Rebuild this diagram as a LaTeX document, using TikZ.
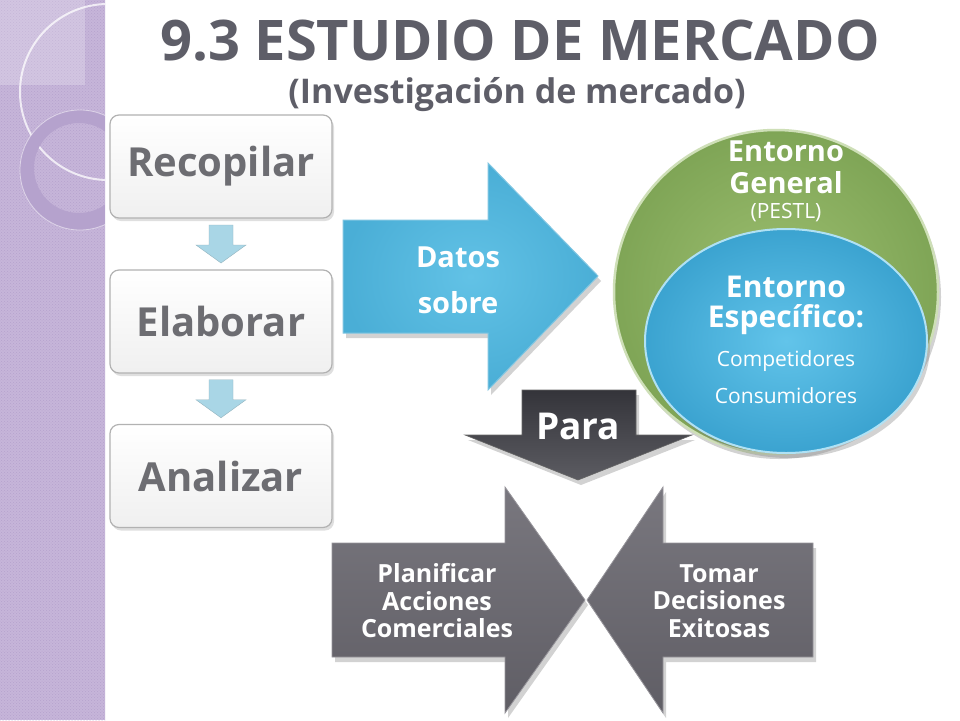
\documentclass[tikz,border=0pt]{standalone}
\usepackage{fontspec}
\setmainfont{Open Sans}
\usetikzlibrary{shadows,patterns,calc}
\definecolor{strip}{HTML}{C6B5D9}
\definecolor{stripdark}{HTML}{B5A2CD}
\definecolor{titlegray}{HTML}{5E5E68}
\definecolor{boxtext}{HTML}{6D6D72}
\definecolor{lblue}{HTML}{A9D6E6}
\definecolor{arrowblue}{HTML}{4AAED6}
\definecolor{arrowbluein}{HTML}{62C2E6}
\definecolor{greenout}{HTML}{7FA556}
\definecolor{greenin}{HTML}{9DBF70}
\definecolor{bluecin}{HTML}{62C4EA}
\definecolor{bluecout}{HTML}{3BA3D0}
\definecolor{paratop}{HTML}{34343A}
\definecolor{parabot}{HTML}{5C5C62}
\definecolor{grayarrow}{HTML}{6A6870}
\tikzset{
  stepbox/.style={draw=black!30, line width=1.2pt, rounded corners=9pt,
    top color=white, bottom color=black!6, minimum width=222pt, minimum height=103pt,
    font=\fontsize{40}{44}\selectfont\bfseries, text=boxtext,
    drop shadow={opacity=0.25, shadow xshift=2pt, shadow yshift=-3pt}},
  whitetxt/.style={text=white, font=\bfseries, align=center, inner sep=0pt},
  smallarrow/.style={fill=lblue, draw=lblue!80!black!90, line width=0.4pt},
  shad/.style={drop shadow={opacity=0.35, shadow xshift=3pt, shadow yshift=-5pt}}
}
\begin{document}
\begin{tikzpicture}[x=1pt,y=-1pt]
\useasboundingbox (0,0) rectangle (960,720);
\fill[white] (0,0) rectangle (960,720);
% left strip
\fill[strip] (0,0) rectangle (105,720);
\fill[pattern=crosshatch dots, pattern color=stripdark] (0,0) rectangle (105,720);
\fill[white, opacity=0.22] (0,0) rectangle (85,85);
\begin{scope}
  \clip (0,0) rectangle (105,720);
  \draw[white, opacity=0.75, line width=2pt] (108,92) circle (88pt);
  \fill[stripdark, even odd rule] (80,170) circle (60pt) (79,168) circle (45pt);
  \draw[white, opacity=0.5, line width=0.8pt] (80,170) circle (60pt);
\end{scope}
\draw[white!85!strip, line width=1.5pt] (105.5,0) -- (105.5,720);
% title
\node[text=titlegray, font=\fontsize{56}{60}\selectfont\bfseries] (title) at (520,41) {9.3 ESTUDIO DE MERCADO};
\node[text=titlegray, font=\fontsize{34}{38}\selectfont\bfseries] (subtitle) at (517,95) {(Investigación de mercado)};
% boxes
\node[stepbox] (rec) at (221,166.5) {Recopilar};
\node[stepbox] (ela) at (221,321.5) {Elaborar};
\node[stepbox] (ana) at (221,476) {Analizar};
% small arrows
\foreach \a/\b [count=\i] in {rec/ela, ela/ana}{
  \coordinate (m\i) at ($(\a.south)!0.5!(\b.north)$);
  \path[smallarrow] ($(m\i)+(-12,-19)$) -- ++(24,0) -- ++(0,20) -- ++(13,0)
     -- ($(m\i)+(0,19)$) -- ($(m\i)+(-25,1)$) -- ++(13,0) -- cycle;
}
% blue arrow
\path[shad, inner color=arrowbluein, outer color=arrowblue, draw=arrowblue!70!white, line width=1pt]
  (343,220) -- (488,220) -- (488,163) -- (598,276) -- (488,390) -- (488,333) -- (343,333) -- cycle;
\node[whitetxt, font=\fontsize{29}{32}\selectfont\bfseries] (datos) at (458,257) {Datos};
\node[whitetxt, font=\fontsize{29}{32}\selectfont\bfseries] (sobre) at (458,303) {sobre};
% Para arrow
\path[shad, top color=paratop, bottom color=parabot, draw=black!60, line width=0.6pt]
  (522,390) -- (636,390) -- (636,435) -- (692,435) -- (578,480) -- (465,435) -- (522,435) -- cycle;
\node[whitetxt, font=\fontsize{37}{40}\selectfont\bfseries] (para) at (578,426) {Para};
% circles
\path[shad, inner color=greenin, outer color=greenout, draw=greenin!50!white, line width=2.5pt]
  (776,292) circle (162pt);
\path[shad, inner color=bluecin, outer color=bluecout, draw=bluecin!50!white, line width=2pt]
  (786,341) ellipse (141pt and 112pt);
\node[whitetxt, font=\fontsize{29}{32}\selectfont\bfseries] (eg1) at (786,151) {Entorno};
\node[whitetxt, font=\fontsize{29}{32}\selectfont\bfseries] (eg2) at (786,183) {General};
\node[whitetxt, font=\fontsize{21}{24}\selectfont] (pestl) at (786,213) {(PESTL)};
\node[whitetxt, font=\fontsize{30}{33}\selectfont\bfseries] (ee1) at (786,287) {Entorno};
\node[whitetxt, font=\fontsize{30}{33}\selectfont\bfseries] (ee2) at (786,320) {Específico:};
\node[whitetxt, font=\fontsize{21}{24}\selectfont] (comp) at (786,361) {Competidores};
\node[whitetxt, font=\fontsize{21}{24}\selectfont] (cons) at (786,396) {Consumidores};
% bottom arrows
\path[shad, top color=grayarrow!90!white, bottom color=grayarrow!90!black, draw=grayarrow!70!white, line width=0.8pt]
  (332,543) -- (505,543) -- (505,487) -- (585,600) -- (505,713) -- (505,657) -- (332,657) -- cycle;
\path[shad, top color=grayarrow!90!white, bottom color=grayarrow!90!black, draw=grayarrow!70!white, line width=0.8pt]
  (813,543) -- (663,543) -- (663,487) -- (587,600) -- (663,713) -- (663,657) -- (813,657) -- cycle;
\node[whitetxt, font=\fontsize{25}{27.5}\selectfont\bfseries] (plan) at (437,601) {Planificar\\Acciones\\Comerciales};
\node[whitetxt, font=\fontsize{25}{27.5}\selectfont\bfseries] (tomar) at (719,601) {Tomar\\Decisiones\\Exitosas};
\end{tikzpicture}
\end{document}
